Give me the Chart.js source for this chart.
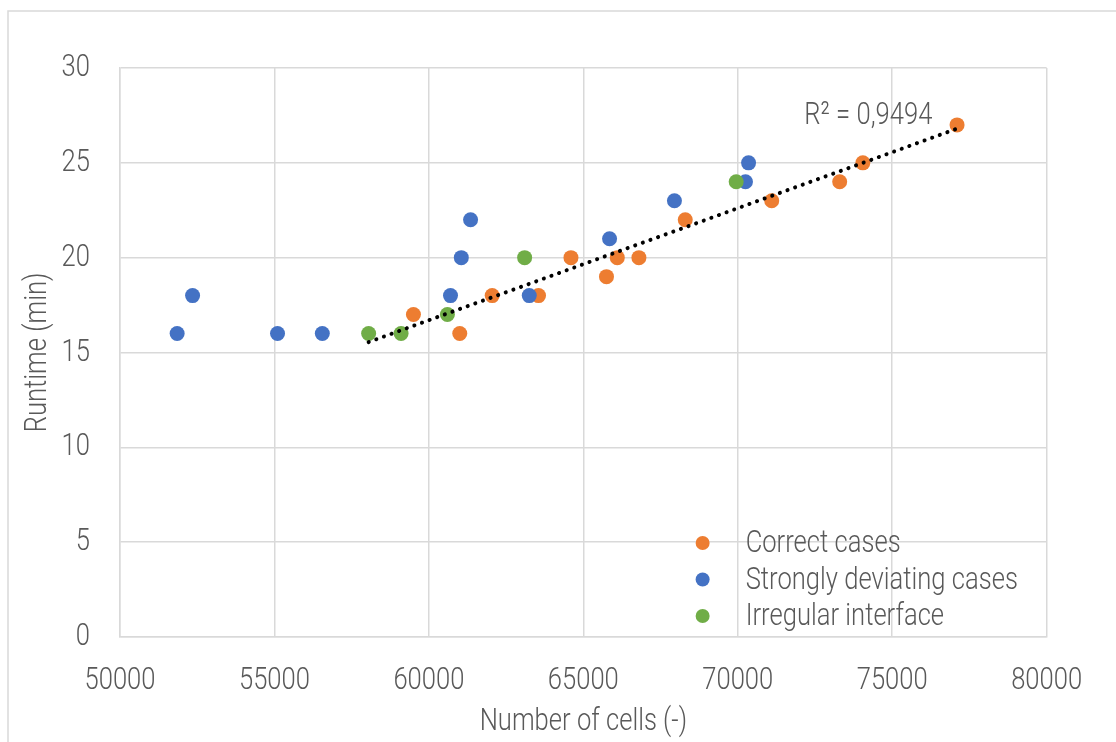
<!DOCTYPE html>
<html>
<head>
<meta charset="utf-8">
<title>Runtime vs number of cells</title>
<script src="https://cdn.jsdelivr.net/npm/chart.js@4.4.1/dist/chart.umd.min.js"></script>
<style>
  html, body { margin: 0; padding: 0; background: #fff; }
  #wrap { width: 1116px; height: 742px; position: relative; }
</style>
</head>
<body>
<div id="wrap"><canvas id="runtimeChart"></canvas></div>
<script>
// Correct cases
const correctCells = [59500, 61000, 62050, 63550, 64600, 65750, 66100, 66800, 68300, 71100, 73300, 74050, 77100];
const correctRuntime = [17, 16, 18, 18, 20, 19, 20, 20, 22, 23, 24, 25, 27];

// Strongly deviating cases
const deviatingCells = [51850, 52350, 55100, 56550, 60700, 61050, 61350, 63250, 65850, 67950, 70250, 70350];
const deviatingRuntime = [16, 18, 16, 16, 18, 20, 22, 18, 21, 23, 24, 25];

// Irregular interface
const irregularCells = [58050, 59100, 60600, 63100, 69950];
const irregularRuntime = [16, 16, 17, 20, 24];

// Linear trendline end points and its label
const trendCells = [58050, 77100];
const trendRuntime = [15.55, 26.8];
const trendLabel = 'R² = 0,9494';
const trendLabelAt = { x: 76300, y: 27.45 };

const xTicks = [50000, 55000, 60000, 65000, 70000, 75000, 80000];
const yTicks = [0, 5, 10, 15, 20, 25, 30];

const FONT = "Roboto, 'DejaVu Sans Condensed', sans-serif";
const FONT_SIZE = 32;
const FONT_WEIGHT = 300;
const TEXT_SQUEEZE = 0.8;   // horizontal squeeze for a condensed look
const TEXT_COLOR = '#595959';
const GRID_COLOR = '#d9d9d9';

const COLORS = {
  correct: '#ED7D31',
  deviating: '#4472C4',
  irregular: '#70AD47'
};

function toPoints(xs, ys) {
  return xs.map((x, i) => ({ x: x, y: ys[i] }));
}

function axisFont() {
  return { family: FONT, size: FONT_SIZE, weight: FONT_WEIGHT };
}

/**
 * Squeeze all text drawn on the chart canvas around its anchor point
 */
const condensedTextPlugin = {
  id: 'condensedText',
  beforeInit(chart) {
    const ctx = chart.ctx;
    const fillText = ctx.fillText.bind(ctx);
    ctx.fillText = function(text, x, y) {
      ctx.save();
      ctx.translate(x, y);
      ctx.scale(TEXT_SQUEEZE, 1);
      fillText(text, 0, 0);
      ctx.restore();
    };
  }
};

/**
 * Outer frame of the chart
 */
const framePlugin = {
  id: 'frame',
  beforeDraw(chart) {
    const ctx = chart.ctx;
    ctx.save();
    ctx.fillStyle = '#fff';
    ctx.fillRect(0, 0, chart.width, chart.height);
    ctx.strokeStyle = GRID_COLOR;
    ctx.lineWidth = 1.5;
    ctx.strokeRect(8, 11, chart.width + 20, chart.height + 20);
    ctx.restore();
  }
};

/**
 * Legend in the lower right corner of the plot, plus the R² label
 */
const overlayPlugin = {
  id: 'overlay',
  afterDraw(chart) {
    const ctx = chart.ctx;
    const area = chart.chartArea;
    const xs = chart.scales.x;
    const ys = chart.scales.y;
    ctx.save();

    // R² label next to the trendline
    ctx.font = FONT_WEIGHT + ' ' + FONT_SIZE + 'px ' + FONT;
    ctx.fillStyle = TEXT_COLOR;
    ctx.textAlign = 'right';
    ctx.textBaseline = 'middle';
    ctx.fillText(trendLabel, xs.getPixelForValue(trendLabelAt.x), ys.getPixelForValue(trendLabelAt.y));

    // legend entries, skipping the trendline
    const entries = chart.data.datasets.filter(ds => ds.label);
    const markerX = area.right - 344;
    const textX = area.right - 301;
    let rowY = area.bottom - 94;
    ctx.textAlign = 'left';
    entries.forEach(ds => {
      ctx.beginPath();
      ctx.fillStyle = ds.backgroundColor;
      ctx.arc(markerX, rowY, 7, 0, Math.PI * 2);
      ctx.fill();
      ctx.fillStyle = TEXT_COLOR;
      ctx.fillText(ds.label, textX, rowY + 1);
      rowY += 36.5;
    });
    ctx.restore();
  }
};

function scatterSet(label, xs, ys, color, order) {
  return {
    label: label,
    data: toPoints(xs, ys),
    backgroundColor: color,
    borderColor: color,
    borderWidth: 0,
    pointRadius: 7.5,
    pointHoverRadius: 7.5,
    order: order
  };
}

const ctx = document.getElementById('runtimeChart');
new Chart(ctx, {
  type: 'scatter',
  data: {
    datasets: [
      {
        label: '',
        data: toPoints(trendCells, trendRuntime),
        showLine: true,
        borderColor: '#000',
        borderWidth: 4,
        borderDash: [0.1, 8],
        borderCapStyle: 'round',
        pointRadius: 0,
        fill: false,
        order: 0
      },
      scatterSet('Correct cases', correctCells, correctRuntime, COLORS.correct, 3),
      scatterSet('Strongly deviating cases', deviatingCells, deviatingRuntime, COLORS.deviating, 2),
      scatterSet('Irregular interface', irregularCells, irregularRuntime, COLORS.irregular, 1)
    ]
  },
  options: {
    responsive: true,
    maintainAspectRatio: false,
    animation: false,
    layout: {
      padding: { top: 68, right: 69, left: 0, bottom: 0 }
    },
    plugins: {
      legend: { display: false },
      tooltip: { enabled: false }
    },
    scales: {
      x: {
        type: 'linear',
        min: 50000,
        max: 80000,
        afterBuildTicks: scale => {
          scale.ticks = xTicks.map(v => ({ value: v }));
        },
        afterFit: scale => {
          scale.height = 105;
        },
        grid: { color: GRID_COLOR, lineWidth: 1.5, drawTicks: false },
        border: { color: GRID_COLOR, width: 1.5 },
        ticks: {
          padding: 25,
          color: TEXT_COLOR,
          font: axisFont(),
          maxRotation: 0,
          callback: value => String(value)
        },
        title: {
          display: true,
          text: 'Number of cells (-)',
          color: TEXT_COLOR,
          font: axisFont(),
          padding: { top: 0, bottom: 1 }
        }
      },
      y: {
        type: 'linear',
        min: 0,
        max: 30,
        afterBuildTicks: scale => {
          scale.ticks = yTicks.map(v => ({ value: v }));
        },
        afterFit: scale => {
          scale.width = 120;
        },
        grid: { color: GRID_COLOR, lineWidth: 1.5, drawTicks: false },
        border: { color: GRID_COLOR, width: 1.5 },
        ticks: {
          padding: 30,
          color: TEXT_COLOR,
          font: axisFont()
        },
        title: {
          display: true,
          text: 'Runtime (min)',
          color: TEXT_COLOR,
          font: axisFont(),
          padding: { top: 19, bottom: 0 }
        }
      }
    }
  },
  plugins: [condensedTextPlugin, framePlugin, overlayPlugin]
});
</script>
</body>
</html>
